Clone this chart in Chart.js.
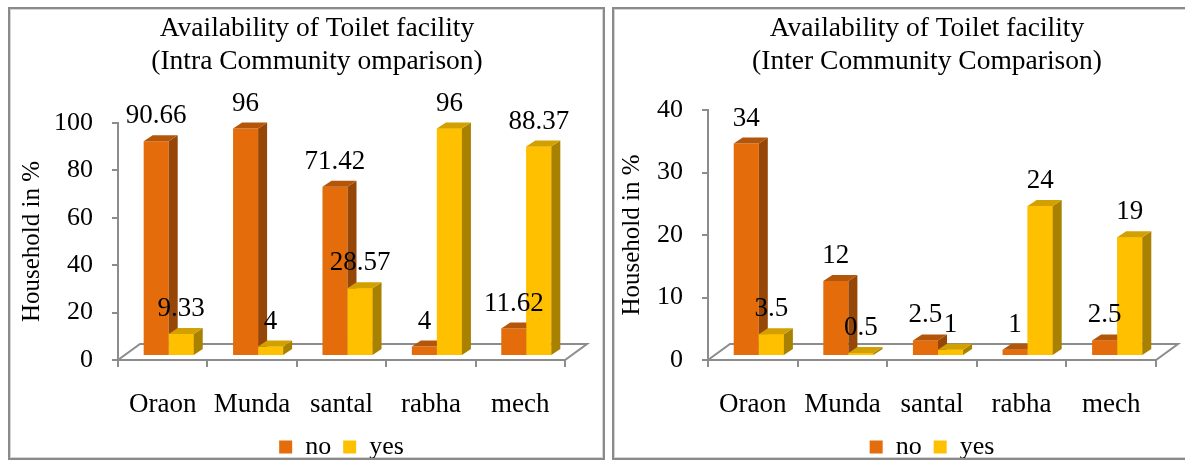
<!DOCTYPE html>
<html>
<head>
<meta charset="utf-8">
<title>Availability of Toilet facility</title>
<script src="https://cdn.jsdelivr.net/npm/chart.js@4.4.0/dist/chart.umd.min.js"></script>
<style>
  html, body { margin: 0; padding: 0; background: #fff; }
  body { width: 1185px; height: 460px; position: relative; overflow: hidden; }
  .panel {
    position: absolute;
    top: 7px;
    height: 449px;
    border: 2px solid #8a8a8a;
    box-shadow: inset 0 0 0 1px #d4d4d4;
    overflow: hidden;
    background: #fff;
  }
  #intra-box { left: 8px; width: 593px; }
  #inter-box { left: 612px; width: 640px; }
  .panel canvas { position: absolute; left: 0; top: 0; }
</style>
</head>
<body>
<div class="panel" id="intra-box"><canvas id="intra-chart" width="614" height="461"></canvas></div>
<div class="panel" id="inter-box"><canvas id="inter-chart" width="626" height="461"></canvas></div>

<script>
const categories = ["Oraon", "Munda", "santal", "rabha", "mech"];
const seriesNames = ["no", "yes"];

// share of households within each community
const intraNo = [90.66, 96, 71.42, 4, 11.62];
const intraYes = [9.33, 4, 28.57, 96, 88.37];
const intraTicks = [0, 20, 40, 60, 80, 100];

// share of all households, across communities
const interNo = [34, 12, 2.5, 1, 2.5];
const interYes = [3.5, 0.5, 1, 24, 19];
const interTicks = [0, 10, 20, 30, 40];

const FONT = "'Liberation Serif', 'Times New Roman', serif";
const AXIS = "#8c8c8c";
const ORANGE = { front: "#E46C0A", top: "#B4560A", side: "#964707" };
const YELLOW = { front: "#FFC000", top: "#D2A000", side: "#A98100" };

const SHIFT = { x: 6, y: -4 };   // bars stand part way back on the floor
const FLOOR = { x: 22, y: -16 }; // depth of the floor plate
const FACE = { x: 9, y: -6 };    // depth of each bar

function drawFaces(ctx, el, colors) {
  const { x, y, base, width } = el.getProps(["x", "y", "base", "width"], true);
  const l = x - width / 2;
  const r = x + width / 2;
  ctx.fillStyle = colors.side;
  ctx.beginPath();
  ctx.moveTo(r, y);
  ctx.lineTo(r + FACE.x, y + FACE.y);
  ctx.lineTo(r + FACE.x, base + FACE.y);
  ctx.lineTo(r, base);
  ctx.closePath();
  ctx.fill();
  ctx.fillStyle = colors.top;
  ctx.beginPath();
  ctx.moveTo(l, y);
  ctx.lineTo(l + FACE.x, y + FACE.y);
  ctx.lineTo(r + FACE.x, y + FACE.y);
  ctx.lineTo(r, y);
  ctx.closePath();
  ctx.fill();
}

const bars3d = {
  id: "bars3d",
  beforeDatasetsDraw(chart) {
    const { ctx, chartArea: a } = chart;
    ctx.save();
    ctx.beginPath();
    ctx.moveTo(a.left, a.bottom);
    ctx.lineTo(a.right, a.bottom);
    ctx.lineTo(a.right + FLOOR.x, a.bottom + FLOOR.y);
    ctx.lineTo(a.left + FLOOR.x, a.bottom + FLOOR.y);
    ctx.closePath();
    ctx.fillStyle = "#fff";
    ctx.fill();
    ctx.strokeStyle = AXIS;
    ctx.lineWidth = 2;
    ctx.stroke();
    // restored in afterDatasetsDraw
    ctx.translate(SHIFT.x, SHIFT.y);
  },
  afterDatasetsDraw(chart) {
    const ctx = chart.ctx;
    const noMeta = chart.getDatasetMeta(0);
    const yesMeta = chart.getDatasetMeta(1);
    noMeta.data.forEach((el, i) => {
      drawFaces(ctx, el, ORANGE);
      yesMeta.data[i].draw(ctx);
      drawFaces(ctx, yesMeta.data[i], YELLOW);
    });
    ctx.fillStyle = "#000";
    ctx.font = "27px " + FONT;
    ctx.textAlign = "center";
    ctx.textBaseline = "middle";
    [noMeta, yesMeta].forEach((meta, d) => {
      const values = chart.data.datasets[d].data;
      meta.data.forEach((el, i) => {
        ctx.fillText(String(values[i]), el.x, el.y - 25);
      });
    });
    ctx.restore();
  }
};

function makeChart(id, opts) {
  const tickVals = opts.ticks;
  return new Chart(document.getElementById(id), {
    type: "bar",
    data: {
      labels: categories,
      datasets: [
        { label: seriesNames[0], data: opts.no, backgroundColor: ORANGE.front, borderWidth: 0 },
        { label: seriesNames[1], data: opts.yes, backgroundColor: YELLOW.front, borderWidth: 0 }
      ]
    },
    options: {
      responsive: false,
      animation: false,
      events: [],
      datasets: { bar: { categoryPercentage: 0.56, barPercentage: 1 } },
      scales: {
        x: {
          afterFit: (s) => { s.height = 62; },
          grid: { offset: true, drawOnChartArea: false, tickLength: 7, color: AXIS, lineWidth: 2 },
          border: { color: AXIS, width: 2 },
          ticks: { color: "#000", font: { family: FONT, size: 27 }, padding: 22, maxRotation: 0, autoSkip: false }
        },
        y: {
          min: tickVals[0],
          max: tickVals[tickVals.length - 1],
          afterBuildTicks: (s) => { s.ticks = tickVals.map((v) => ({ value: v })); },
          afterFit: (s) => { s.width = opts.axisWidth; },
          grid: { drawOnChartArea: false, tickLength: 6, color: AXIS, lineWidth: 2 },
          border: { color: AXIS, width: 2 },
          ticks: { color: "#000", font: { family: FONT, size: 26 }, padding: 19 },
          title: {
            display: true,
            text: "Household in %",
            color: "#000",
            font: { family: FONT, size: 25 },
            padding: { top: opts.axisTitlePad, bottom: 0 }
          }
        },
        // empty strip on the right that holds the floor's depth
        depth: {
          type: "linear",
          axis: "y",
          position: "right",
          display: true,
          afterFit: (s) => { s.width = opts.gutter; },
          grid: { display: false },
          border: { display: false },
          ticks: { display: false }
        }
      },
      plugins: {
        tooltip: { enabled: false },
        title: {
          display: true,
          text: opts.title,
          color: "#000",
          font: { family: FONT, size: 27.5, weight: "normal", lineHeight: 33 / 27.5 },
          padding: { top: 3.5, bottom: opts.titleGap }
        },
        legend: {
          position: "bottom",
          fullSize: false,
          labels: {
            color: "#000",
            font: { family: FONT, size: 26 },
            boxWidth: 13,
            boxHeight: 13,
            padding: 12
          }
        }
      }
    },
    plugins: [bars3d]
  });
}

makeChart("intra-chart", {
  no: intraNo,
  yes: intraYes,
  ticks: intraTicks,
  title: ["Availability of Toilet facility", "(Intra Community omparison)"],
  axisWidth: 108,
  axisTitlePad: 7,
  gutter: 59,
  titleGap: 44.5
});

makeChart("inter-chart", {
  no: interNo,
  yes: interYes,
  ticks: interTicks,
  title: ["Availability of Toilet facility", "(Inter Community Comparison)"],
  axisWidth: 94,
  axisTitlePad: 3,
  gutter: 84,
  titleGap: 31.5
});
</script>
</body>
</html>
